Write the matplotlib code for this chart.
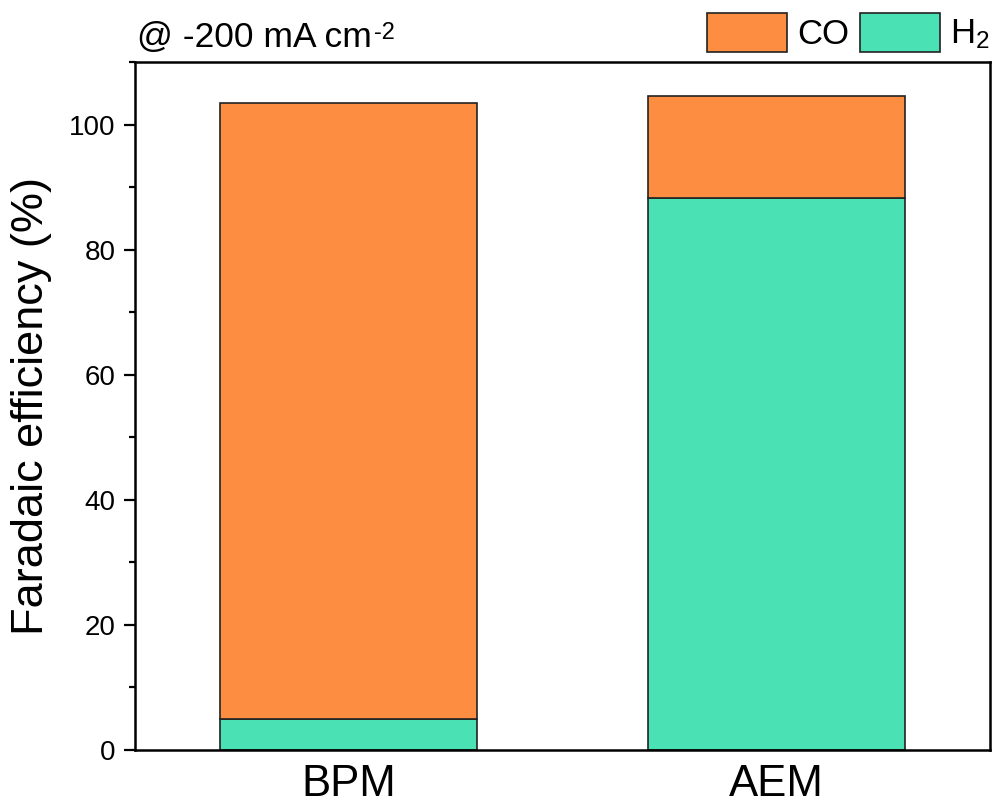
import matplotlib
matplotlib.use("Agg")
import matplotlib.pyplot as plt
from matplotlib.ticker import MultipleLocator

plt.rcParams['font.family'] = ['Liberation Sans', 'DejaVu Sans']
plt.rcParams['mathtext.default'] = 'regular'

categories = ['BPM', 'AEM']
h2_fe = [5.0, 88.2]
co_fe = [98.4, 16.3]
series_labels = ['CO', 'H$_2$']
colors = {'CO': '#FD8E41', 'H2': '#4AE1B5'}

fig = plt.figure(figsize=(9.94, 8.05), dpi=100)
ax = fig.add_axes([0.1358, 0.0683, 0.8602, 0.8547])

x = list(range(len(categories)))
b_h2 = ax.bar(x, h2_fe, width=0.6, color=colors['H2'], edgecolor='#222222', linewidth=1.2)
b_co = ax.bar(x, co_fe, width=0.6, bottom=h2_fe, color=colors['CO'], edgecolor='#222222', linewidth=1.2)

ax.set_xlim(-0.5, 1.5)
ax.set_ylim(0, 110)
ax.set_xticks(x)
ax.set_xticklabels(categories, fontsize=31.5)
ax.tick_params(axis='x', length=0, pad=10)
ax.yaxis.set_major_locator(MultipleLocator(20))
ax.yaxis.set_minor_locator(MultipleLocator(10))
ax.tick_params(axis='y', which='major', direction='out', length=8, width=1.6, labelsize=20, pad=6)
ax.tick_params(axis='y', which='minor', direction='out', length=4, width=1.6)
for s in ax.spines.values():
    s.set_linewidth(1.8)

ax.set_ylabel('Faradaic efficiency (%)', fontsize=32.5, labelpad=12)

t = ax.text(0.002, 1.012, '@ -200 mA cm', transform=ax.transAxes, fontsize=25.5,
            ha='left', va='bottom')
ax.annotate('-2', xy=(1.0, 1.0), xycoords=t, xytext=(1.5, -1), textcoords='offset points',
            fontsize=17, ha='left', va='top')

leg = ax.legend([b_co, b_h2], series_labels, loc='lower right', bbox_to_anchor=(1.0, 1.015),
                ncol=2, frameon=False, fontsize=25, handlelength=2.3, handleheight=1.35,
                handletextpad=0.3, columnspacing=0.3, borderaxespad=0.0, borderpad=0.0)
for p in leg.get_patches():
    p.set_linewidth(1.2)

fig.savefig('out.png', dpi=100)
